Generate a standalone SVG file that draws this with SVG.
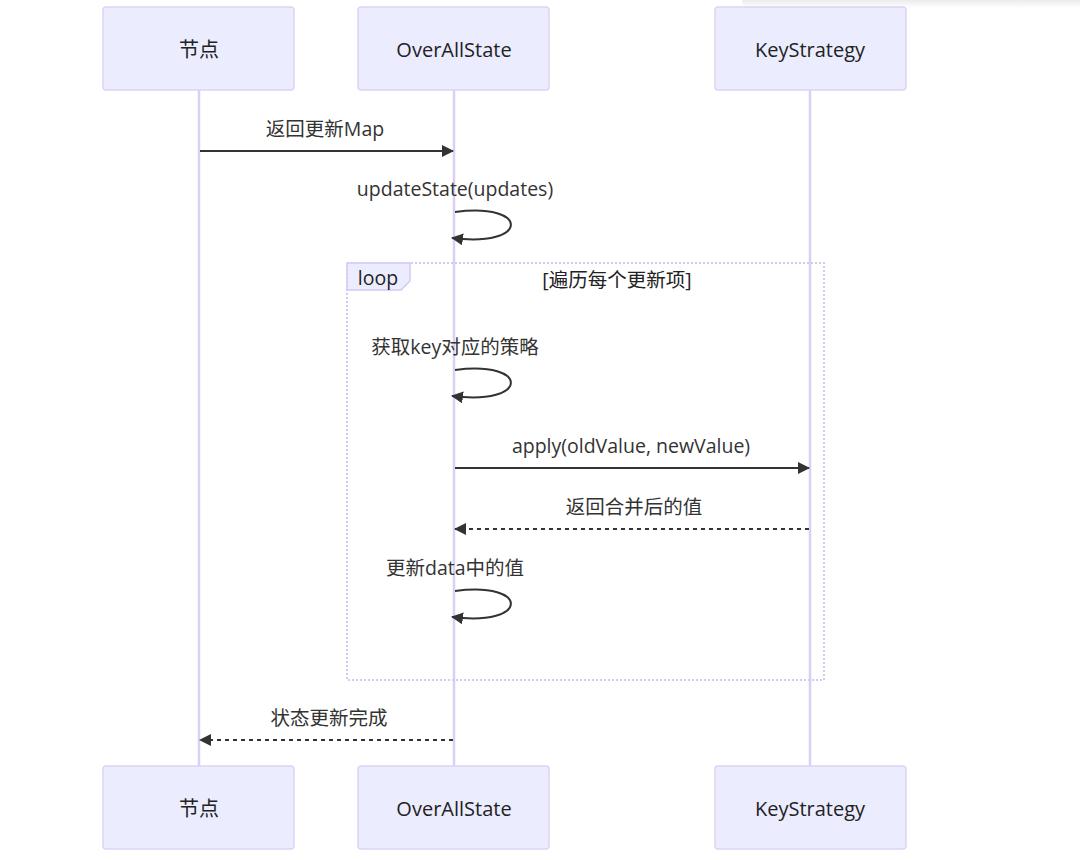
<svg xmlns="http://www.w3.org/2000/svg" width="1080" height="860" viewBox="0 0 1080 860">
<defs>
<style>
.actor{fill:#ECECFF;stroke:#DCD3F5;stroke-width:1.5}
.atxt{font-family:"Open Sans","Noto Sans","Noto Sans CJK SC",sans-serif;font-size:20px;fill:#222;text-anchor:middle;dominant-baseline:central}
.life{stroke:#DAD0F5;stroke-width:2.5;fill:none}
.msg{stroke:#333;stroke-width:2;fill:none}
.dash{stroke-dasharray:4,4}
.mtxt{font-family:"Open Sans","Noto Sans","Noto Sans CJK SC",sans-serif;font-size:19.5px;fill:#333;text-anchor:middle;dominant-baseline:central}
.loopbox{fill:none;stroke:#D4C9F2;stroke-width:2;stroke-dasharray:2,2}
.looplbl{fill:#ECECFF;stroke:#D4C9F2;stroke-width:1.5}
</style>
<marker id="arr" viewBox="0 0 12 12" refX="11" refY="6" markerWidth="12" markerHeight="12" markerUnits="userSpaceOnUse" orient="auto">
<path d="M0,0 L12,6 L0,12 Z" fill="#333"/>
</marker>
<linearGradient id="sh" x1="0" y1="0" x2="0" y2="1">
<stop offset="0" stop-color="#e2e2e2"/>
<stop offset="1" stop-color="#ffffff"/>
</linearGradient>
</defs>
<rect width="1080" height="860" fill="#ffffff"/>
<rect x="742" y="-4" width="345" height="12" rx="6" fill="url(#sh)"/>

<g id="lifelines">
<line class="life" x1="199" y1="90" x2="199" y2="766"/>
<line class="life" x1="454" y1="90" x2="454" y2="766"/>
<line class="life" x1="810" y1="90" x2="810" y2="766"/>
</g>

<g id="loop">
<rect class="loopbox" x="347" y="263" width="477" height="417"/>
<path class="looplbl" d="M347,263 L410,263 L410,281 L401,290 L347,290 Z"/>
<text class="mtxt" x="378" y="277" style="fill:#222">loop</text>
<text class="mtxt" x="617" y="279" style="fill:#222">[遍历每个更新项]</text>
</g>

<g id="actor-node-top"><rect class="actor" x="103" y="7" width="191" height="83" rx="3"/><text class="atxt" x="199" y="49">节点</text></g>
<g id="actor-state-top"><rect class="actor" x="358" y="7" width="191" height="83" rx="3"/><text class="atxt" x="454" y="49">OverAllState</text></g>
<g id="actor-key-top"><rect class="actor" x="715" y="7" width="191" height="83" rx="3"/><text class="atxt" x="810" y="49">KeyStrategy</text></g>
<g id="actor-node-bottom"><rect class="actor" x="103" y="766" width="191" height="83" rx="3"/><text class="atxt" x="199" y="808">节点</text></g>
<g id="actor-state-bottom"><rect class="actor" x="358" y="766" width="191" height="83" rx="3"/><text class="atxt" x="454" y="808">OverAllState</text></g>
<g id="actor-key-bottom"><rect class="actor" x="715" y="766" width="191" height="83" rx="3"/><text class="atxt" x="810" y="808">KeyStrategy</text></g>

<g id="connectors">
<line class="msg" x1="200" y1="151" x2="453" y2="151" marker-end="url(#arr)"/>
<text class="mtxt" x="325" y="128">返回更新Map</text>

<path class="msg" d="M455,212 C530,202 530,248 452,238" marker-end="url(#arr)"/>
<text class="mtxt" x="455" y="188">updateState(updates)</text>

<path class="msg" d="M455,370 C530,360 530,406 452,396" marker-end="url(#arr)"/>
<text class="mtxt" x="455" y="346">获取key对应的策略</text>

<line class="msg" x1="455" y1="468" x2="809" y2="468" marker-end="url(#arr)"/>
<text class="mtxt" x="631" y="445">apply(oldValue, newValue)</text>

<line class="msg dash" x1="809" y1="529" x2="455" y2="529" marker-end="url(#arr)"/>
<text class="mtxt" x="634" y="506">返回合并后的值</text>

<path class="msg" d="M455,591 C530,581 530,627 452,617" marker-end="url(#arr)"/>
<text class="mtxt" x="455" y="567">更新data中的值</text>

<line class="msg dash" x1="453" y1="740" x2="200" y2="740" marker-end="url(#arr)"/>
<text class="mtxt" x="329" y="717">状态更新完成</text>
</g>
</svg>
